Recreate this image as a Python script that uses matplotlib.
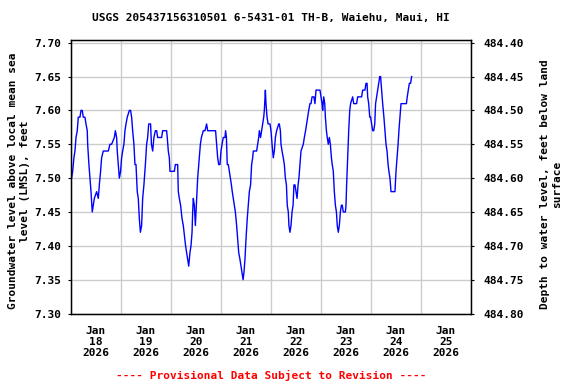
"""
USGS groundwater level plot, well 6-5431-01 TH-B (Waiehu, Maui)
"""
import datetime as dt
import matplotlib
matplotlib.use("Agg")
import matplotlib.pyplot as plt
import matplotlib.dates as mdates

SITE_TITLE = "USGS 205437156310501 6-5431-01 TH-B, Waiehu, Maui, HI"
LEFT_LABEL = "Groundwater level above local mean sea\nlevel (LMSL), feet"
RIGHT_LABEL = "Depth to water level, feet below land\nsurface"
FOOTER = "---- Provisional Data Subject to Revision ----"
LAND_SURFACE = 492.10  # depth = LAND_SURFACE - level

START = dt.datetime(2026, 1, 18)
DAYS = [18, 19, 20, 21, 22, 23, 24, 25]

# hours after Jan 18 00:00
hours = [
    0.3, 0.8, 1.4, 1.9, 2.4, 3.0, 3.5, 4.3, 4.8, 5.4, 5.9, 6.7, 7.2, 7.8, 8.0,
    8.6, 9.1, 9.6, 10.2, 10.7, 11.2, 12.3, 13.1, 13.6, 14.2, 14.7, 15.5, 16.3,
    17.9, 18.7, 19.5, 20.8, 21.3, 21.9, 22.2, 22.7, 23.2, 23.8, 24.3, 24.8,
    25.4, 25.9, 26.4, 27.0, 28.0, 28.6, 29.1, 29.6, 30.2, 30.7, 31.2, 31.8,
    32.3, 32.8, 33.3, 33.9, 34.4, 35.0, 35.7, 36.3, 36.8, 37.3, 38.2, 38.6,
    39.2, 39.8, 40.5, 41.1, 41.6, 43.5, 44.0, 45.9, 46.2, 46.7, 47.2, 47.5,
    48.3, 49.1, 49.6, 50.1, 50.6, 51.2, 51.5, 52.0, 52.6, 53.3, 53.9, 54.6,
    55.0, 55.5, 56.0, 56.5, 57.1, 57.6,
    58.1, 58.4, 58.7, 59.2, 59.7, 60.0, 60.3, 60.8, 61.3, 61.6, 62.1, 62.6,
    63.5, 64.3, 65.1, 65.6, 69.4, 69.9, 70.4, 70.9, 71.5, 72.0, 72.5, 73.1,
    73.9, 74.2, 74.6, 75.0, 75.5, 76.0, 76.5, 77.0, 77.4, 77.9, 78.4, 78.9,
    79.5, 80.0, 80.5, 81.1, 81.6, 82.1, 82.6, 83.0, 83.5, 84.0, 84.6, 85.1,
    85.6, 86.2, 86.7, 87.2, 87.5, 89.1, 89.6, 90.1, 90.4, 91.0, 91.5, 92.0,
    92.5, 92.8, 93.3, 93.6, 94.1, 94.6, 95.0, 95.5, 96.0, 96.5, 97.1, 97.6,
    98.1, 98.7, 99.7, 100.0, 100.5, 100.8, 101.3, 101.9, 102.4, 102.9, 103.4,
    103.8, 104.3, 104.6, 105.1, 105.6, 106.1, 106.6, 107.0, 107.5, 108.0,
    108.5, 109.0, 109.4, 109.9, 110.4, 111.5, 112.0, 112.6, 113.1, 113.6,
    114.1, 114.7, 115.2, 115.7, 116.2, 116.6, 117.1, 117.6, 118.1, 119.5,
    120.0, 120.5, 120.8, 121.3, 121.8, 122.1, 122.6, 123.0, 123.5, 124.0,
    124.5, 125.0, 125.4, 125.9, 126.4, 126.9, 127.4, 127.8, 128.3, 128.8,
    129.3, 129.8, 130.2, 130.7, 131.7, 132.0, 132.3, 132.8, 133.3, 133.8,
    134.2, 135.2, 135.7, 137.1, 137.6, 138.1, 139.5, 140.0, 141.1, 141.6,
    142.1, 142.4, 142.9, 143.4, 143.8, 144.3, 144.8, 145.3, 145.8, 146.2,
    146.7, 147.2, 147.7, 148.2, 148.6, 149.1, 149.6, 150.2, 150.7, 151.2,
    151.7, 152.2, 152.6, 153.1, 153.6, 155.5, 156.0, 156.5, 157.0, 157.4,
    157.9, 158.4, 158.9, 161.0, 161.4, 161.9, 162.4, 163.0, 163.5,
]

# water level, feet above LMSL
level = [
    7.50, 7.51, 7.53, 7.54, 7.56, 7.57, 7.59, 7.59, 7.60, 7.60, 7.59, 7.59,
    7.58, 7.57, 7.55, 7.52, 7.50, 7.48, 7.45, 7.46, 7.47, 7.48, 7.47, 7.49,
    7.51, 7.53, 7.54, 7.54, 7.54, 7.55, 7.55, 7.56, 7.57, 7.56, 7.54, 7.52,
    7.50, 7.51, 7.53, 7.54, 7.55, 7.57, 7.58, 7.59, 7.60, 7.60, 7.59, 7.57,
    7.55, 7.52, 7.52, 7.48, 7.47, 7.44, 7.42, 7.43, 7.47, 7.49, 7.52, 7.55,
    7.56, 7.58, 7.58, 7.55, 7.54, 7.56, 7.57, 7.57, 7.56, 7.56, 7.57, 7.57,
    7.56, 7.54, 7.53, 7.51, 7.51, 7.51, 7.51, 7.52, 7.52, 7.52, 7.48, 7.47,
    7.46, 7.44, 7.43, 7.41, 7.40, 7.39, 7.38, 7.37, 7.39, 7.40,
    7.42, 7.45, 7.47, 7.46, 7.43, 7.45, 7.47, 7.50, 7.52, 7.53, 7.55, 7.56,
    7.57, 7.57, 7.58, 7.57, 7.57, 7.55, 7.53, 7.52, 7.52, 7.54, 7.55, 7.56,
    7.56, 7.57, 7.56, 7.52, 7.52, 7.51, 7.50, 7.49, 7.48, 7.47, 7.46, 7.45,
    7.43, 7.41, 7.39, 7.38, 7.37, 7.36, 7.35, 7.36, 7.38, 7.41, 7.44, 7.46,
    7.48, 7.49, 7.52, 7.53, 7.54, 7.54, 7.55, 7.56, 7.57, 7.56, 7.57, 7.58,
    7.59, 7.60, 7.63, 7.61, 7.59, 7.58, 7.58, 7.58, 7.57, 7.55, 7.53, 7.54,
    7.56, 7.57, 7.58, 7.58, 7.57, 7.55, 7.54, 7.53, 7.52, 7.50, 7.49,
    7.46, 7.45, 7.43, 7.42, 7.43, 7.45, 7.46, 7.49, 7.49, 7.48,
    7.47, 7.49, 7.50, 7.52, 7.54, 7.55, 7.56, 7.57, 7.58, 7.59,
    7.60, 7.61, 7.61, 7.62, 7.62, 7.62, 7.61, 7.63, 7.63, 7.63,
    7.62, 7.61, 7.60, 7.62, 7.61, 7.59, 7.57, 7.56, 7.55, 7.56,
    7.55, 7.53, 7.52, 7.51, 7.48, 7.46, 7.45, 7.43, 7.42, 7.43,
    7.45, 7.46, 7.46, 7.45, 7.45, 7.46, 7.49, 7.53, 7.57, 7.60,
    7.61, 7.62, 7.61, 7.61, 7.62, 7.62, 7.62, 7.63, 7.63, 7.64,
    7.64, 7.62, 7.61, 7.59, 7.59, 7.58, 7.57, 7.57, 7.58, 7.61,
    7.62, 7.63, 7.64, 7.65, 7.65, 7.63, 7.61, 7.59, 7.57, 7.55,
    7.54, 7.52, 7.51, 7.50, 7.48, 7.48, 7.51, 7.53, 7.55, 7.57,
    7.59, 7.61, 7.61, 7.61, 7.62, 7.63, 7.64, 7.64, 7.65,
]

plt.rcParams['font.family'] = ['DejaVu Sans Mono']
plt.rcParams['font.weight'] = 'bold'
plt.rcParams['font.size'] = 8

times = [START + dt.timedelta(hours=h) for h in hours]

fig = plt.figure(figsize=(5.76, 3.84), dpi=100)
ax = fig.add_axes([71 / 576, 1 - 313.5 / 384, 400 / 576, 273.5 / 384])

ax.plot(times, level, color='#0000ff', lw=1.0)

ylo, yhi = 7.30, 7.704
ax.set_ylim(ylo, yhi)
ax.set_yticks([7.30, 7.35, 7.40, 7.45, 7.50, 7.55, 7.60, 7.65, 7.70])
ax.yaxis.set_major_formatter(plt.FormatStrFormatter('%.2f'))
ax.set_xlim(START, START + dt.timedelta(days=8))

# day boundaries carry the grid, noon ticks carry the labels
ax.xaxis.set_major_locator(mdates.DayLocator())
ax.xaxis.set_major_formatter(plt.NullFormatter())
noon = [START + dt.timedelta(days=i, hours=12) for i in range(len(DAYS))]
ax.set_xticks(noon, minor=True)
ax.set_xticklabels([f"Jan\n{d}\n2026" for d in DAYS], minor=True)
ax.tick_params(axis='x', which='both', length=0, pad=9)
ax.tick_params(axis='y', length=2, width=0.8, pad=5)
for lab in ax.get_xticklabels(minor=True):
    lab.set_linespacing(1.15)

ax.grid(True, which='major', color='#cccccc', lw=1.0)
ax.set_axisbelow(True)
for sp in ax.spines.values():
    sp.set_linewidth(1.0)

# depth below land surface on the right
ax2 = ax.twinx()
ax2.set_ylim(LAND_SURFACE - ylo, LAND_SURFACE - yhi)
ax2.set_yticks([484.80, 484.75, 484.70, 484.65, 484.60, 484.55, 484.50,
                484.45, 484.40])
ax2.yaxis.set_major_formatter(plt.FormatStrFormatter('%.2f'))
ax2.tick_params(axis='y', length=2, width=0.8, pad=7)

fig.text(271 / 576, 1 - 18 / 384, SITE_TITLE, ha='center', va='center')
fig.text(19 / 576, 1 - 181 / 384, LEFT_LABEL, rotation=90, ha='center',
         va='center', multialignment='center', linespacing=1.25)
fig.text(551 / 576, 1 - 184 / 384, RIGHT_LABEL, rotation=90, ha='center',
         va='center', multialignment='center', linespacing=1.25)
fig.text(271 / 576, 1 - 375 / 384, FOOTER, color='#ff0000', ha='center',
         va='center')

fig.savefig("out.png", dpi=100)
